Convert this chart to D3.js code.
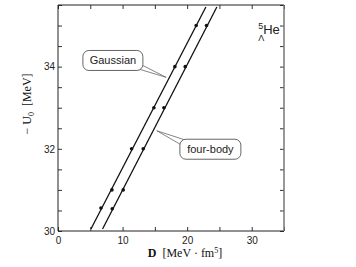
<!DOCTYPE html>
<html>
<head>
  <meta charset="utf-8">
  <script src="https://d3js.org/d3.v7.min.js"></script>
  <style>
    body { margin: 0; background: #fff; }
    text { font-family: "Liberation Sans", Arial, sans-serif; }
    .serif { font-family: "Liberation Serif", "Times New Roman", serif; }
  </style>
</head>
<body>
  <svg id="chart" width="356" height="267"></svg>

  <script>
    // puntos calculados (D, -U0)
    const gaussD = [6.65, 8.35, 11.4, 14.85, 18.1, 21.4];
    const gaussU = [30.56, 31.0, 32.0, 33.0, 34.0, 35.0];
    const fourD = [8.4, 10.1, 13.2, 16.4, 19.7, 23.0];
    const fourU = [30.54, 31.0, 32.0, 33.0, 34.0, 35.0];

    // extremos de las rectas ajustadas
    const gaussLineD = [5.1, 22.9];
    const fourLineD = [6.9, 24.6];
    const lineU = [30.05, 35.45];

    const xTicks = [0, 5, 10, 15, 20, 25, 30, 35];
    const xLabels = [0, 10, 20, 30];
    const yTicks = [30, 30.5, 31, 31.5, 32, 32.5, 33, 33.5, 34, 34.5, 35, 35.5];
    const yLabels = [30, 32, 34];

    // etiquetas con flecha: [texto, D caja, U caja, D punta, U punta]
    const callouts = [
      ["Gaussian", 8.5, 34.15, 16.75, 33.74],
      ["four-body", 23.6, 31.99, 15.3, 32.44]
    ];

    const margin = { top: 5, right: 72, bottom: 36, left: 58 };
    const width = 356, height = 267;
    const w = width - margin.left - margin.right;
    const h = height - margin.top - margin.bottom;

    const svg = d3.select("#chart");
    const g = svg.append("g").attr("transform", `translate(${margin.left},${margin.top})`);

    const x = d3.scaleLinear().domain([0, 35]).range([0, w]);
    const y = d3.scaleLinear().domain([30, 35.5]).range([h, 0]);

    const fmtX = d => xLabels.includes(d) ? d : "";
    const fmtY = d => yLabels.includes(d) ? d : "";

    function styleAxis(sel) {
      sel.selectAll(".domain").remove();
      sel.selectAll("line").attr("stroke", "#333");
      sel.selectAll("text").style("font-size", "10px").attr("fill", "#222");
    }

    g.append("g").attr("transform", `translate(0,${h})`)
      .call(d3.axisBottom(x).tickValues(xTicks).tickSize(-4).tickPadding(6).tickFormat(fmtX))
      .call(styleAxis);
    g.append("g")
      .call(d3.axisTop(x).tickValues(xTicks).tickSize(-4).tickFormat(""))
      .call(styleAxis);
    g.append("g")
      .call(d3.axisLeft(y).tickValues(yTicks).tickSize(-4).tickPadding(3).tickFormat(fmtY))
      .call(styleAxis);
    g.append("g").attr("transform", `translate(${w},0)`)
      .call(d3.axisRight(y).tickValues(yTicks).tickSize(-4).tickFormat(""))
      .call(styleAxis);

    // marco
    g.append("line").attr("x1", 0).attr("x2", w).attr("y1", h).attr("y2", h).attr("stroke", "#222");
    g.append("line").attr("x1", 0).attr("x2", w).attr("y1", 0).attr("y2", 0).attr("stroke", "#222");
    g.append("line").attr("x1", 0).attr("x2", 0).attr("y1", 0).attr("y2", h).attr("stroke", "#222");
    g.append("line").attr("x1", w).attr("x2", w).attr("y1", 0).attr("y2", h).attr("stroke", "#777").attr("stroke-width", 1.5);

    // rectas
    const line = d3.line().x(d => x(d[0])).y(d => y(d[1]));
    [gaussLineD, fourLineD].forEach(ds => {
      g.append("path")
        .attr("d", line(ds.map((d, i) => [d, lineU[i]])))
        .attr("fill", "none").attr("stroke", "#111").attr("stroke-width", 1.3);
    });

    // puntos
    [[gaussD, gaussU], [fourD, fourU]].forEach(([ds, us]) => {
      g.selectAll(null).data(ds).enter().append("circle")
        .attr("cx", d => x(d)).attr("cy", (d, i) => y(us[i]))
        .attr("r", 1.8).attr("fill", "#111");
    });

    // etiquetas
    callouts.forEach(([txt, bd, bu, td, tu], k) => {
      const cx = x(bd), cy = y(bu), tx = x(td), ty = y(tu);
      const bw = k === 0 ? 60 : 61, bh = 20;
      const base = k === 0
        ? [[cx + bw / 2 - 4, cy + 3], [cx + bw / 2 - 6, cy + 8]]
        : [[cx - bw / 2 + 6, cy - bh / 2 + 1], [cx - bw / 2 + 2, cy - bh / 2 + 6]];
      g.append("path")
        .attr("d", `M${base[0][0]},${base[0][1]}L${tx},${ty}L${base[1][0]},${base[1][1]}Z`)
        .attr("fill", "#fff").attr("stroke", "#666").attr("stroke-width", 0.8);
      g.append("rect")
        .attr("x", cx - bw / 2).attr("y", cy - bh / 2)
        .attr("width", bw).attr("height", bh).attr("rx", 6)
        .attr("fill", "#fff").attr("stroke", "#555").attr("stroke-width", 0.9);
      g.append("text").attr("x", cx).attr("y", cy + 4)
        .attr("text-anchor", "middle").style("font-size", "11px").attr("fill", "#222")
        .text(txt);
    });

    // núcleo
    const he = g.append("text").attr("x", x(31)).attr("y", y(34.8)).attr("fill", "#222");
    he.append("tspan").attr("dy", -5).style("font-size", "9px").text("5");
    he.append("tspan").attr("dy", 5).style("font-size", "13px").text("He");
    g.append("text").attr("x", x(31)).attr("y", y(34.8) + 7)
      .style("font-size", "9px").attr("fill", "#222").text("Λ");

    // títulos de los ejes
    const xt = svg.append("text").attr("class", "serif")
      .attr("x", 185).attr("y", 257).attr("text-anchor", "middle")
      .style("font-size", "12px").attr("fill", "#111");
    xt.append("tspan").attr("font-weight", "bold").text("D");
    xt.append("tspan").text("\u00a0\u00a0[MeV · fm");
    xt.append("tspan").attr("dy", -4).style("font-size", "8px").text("5");
    xt.append("tspan").attr("dy", 4).text("]");

    const yt = svg.append("text").attr("class", "serif")
      .attr("transform", "translate(31,104) rotate(-90)").attr("text-anchor", "middle")
      .style("font-size", "12px").attr("fill", "#111");
    yt.append("tspan").text("− U");
    yt.append("tspan").attr("dy", 3).style("font-size", "8px").text("0");
    yt.append("tspan").attr("dy", -3).text("\u00a0\u00a0[MeV]");
  </script>
</body>
</html>
